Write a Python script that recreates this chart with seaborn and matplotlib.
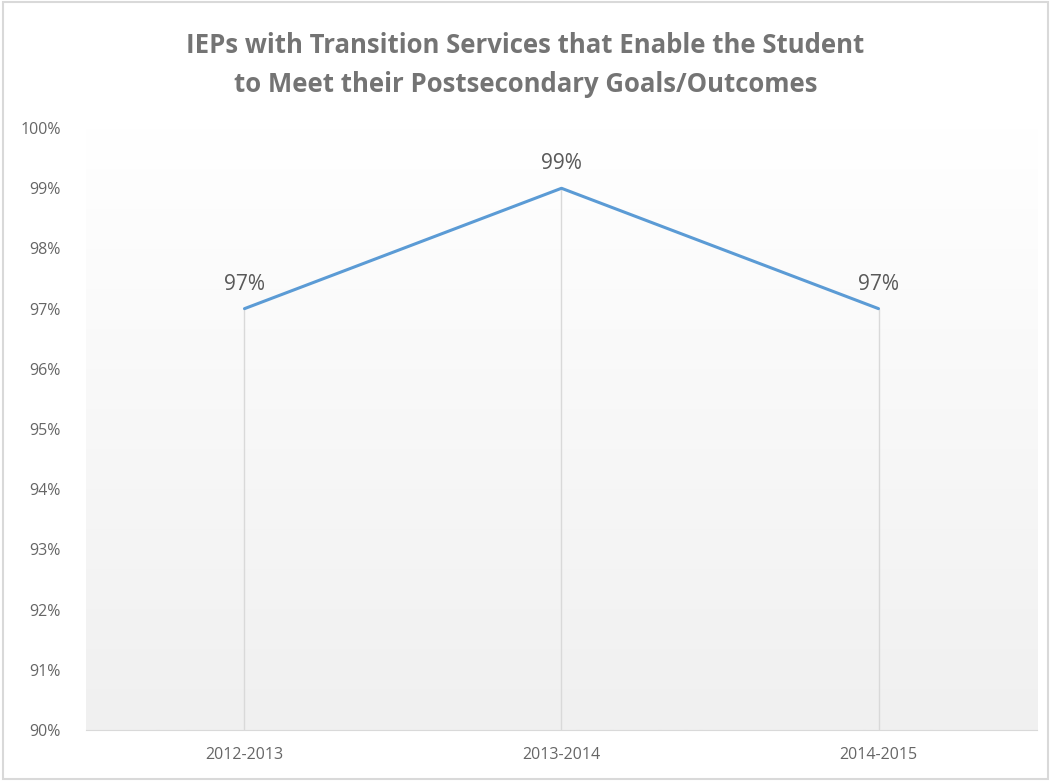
import numpy as np
import matplotlib
matplotlib.use("Agg")
import matplotlib.pyplot as plt
import pandas as pd
import seaborn as sns

# chart values
years = ["2012-2013", "2013-2014", "2014-2015"]
pct = [97, 99, 97]
y_ticks = list(range(90, 101))

data = pd.DataFrame({"year": years, "pct": pct})

sns.set_style("white")
plt.rcParams["font.family"] = ["Open Sans", "DejaVu Sans"]

fig = plt.figure(figsize=(10.51, 7.81), dpi=100)
fig.patch.set_facecolor("white")
ax = fig.add_axes([0.0818, 0.0653, 0.9049, 0.7707])

# gradient background (white top -> light gray bottom)
grad = np.linspace(0, 1, 256).reshape(-1, 1)
cmap = matplotlib.colors.LinearSegmentedColormap.from_list("bg", ["#ffffff", "#f0f0f0"])
ax.imshow(grad, extent=[0, 1, 0, 1], transform=ax.transAxes, cmap=cmap,
          aspect="auto", zorder=0, origin="upper")

sns.lineplot(data=data, x="year", y="pct", color="#5b9bd5", linewidth=2.2,
             sort=False, ax=ax, zorder=3)

# drop lines
xs = np.arange(len(years))
ax.vlines(xs, 90, pct, color="#d9d9d9", linewidth=1, zorder=2)

for x, v in zip(xs, pct):
    ax.annotate(f"{v}%", (x, v), xytext=(0, 10), textcoords="offset points",
                ha="center", va="bottom", fontsize=15, color="#595959")

ax.set_xlim(-0.5, 2.5)
ax.set_ylim(90, 100)
ax.set_yticks(y_ticks)
ax.set_yticklabels([f"{t}%" for t in y_ticks])
ax.tick_params(axis="both", length=0, labelsize=11.5, labelcolor="#666666")
ax.tick_params(axis="y", pad=18)
ax.tick_params(axis="x", pad=12)
ax.set_xlabel("")
ax.set_ylabel("")
for s in ["top", "right", "left"]:
    ax.spines[s].set_visible(False)
ax.spines["bottom"].set_color("#d9d9d9")

fig.text(0.5, 0.917, "IEPs with Transition Services that Enable the Student\nto Meet their Postsecondary Goals/Outcomes",
         ha="center", va="center", fontsize=18.5, fontweight="bold", color="#747474",
         linespacing=1.55)

# outer border
fig.add_artist(plt.Rectangle((0.003, 0.003), 0.994, 0.994, transform=fig.transFigure,
                             fill=False, edgecolor="#d9d9d9", linewidth=1.5))

fig.savefig("out.png", dpi=100)
